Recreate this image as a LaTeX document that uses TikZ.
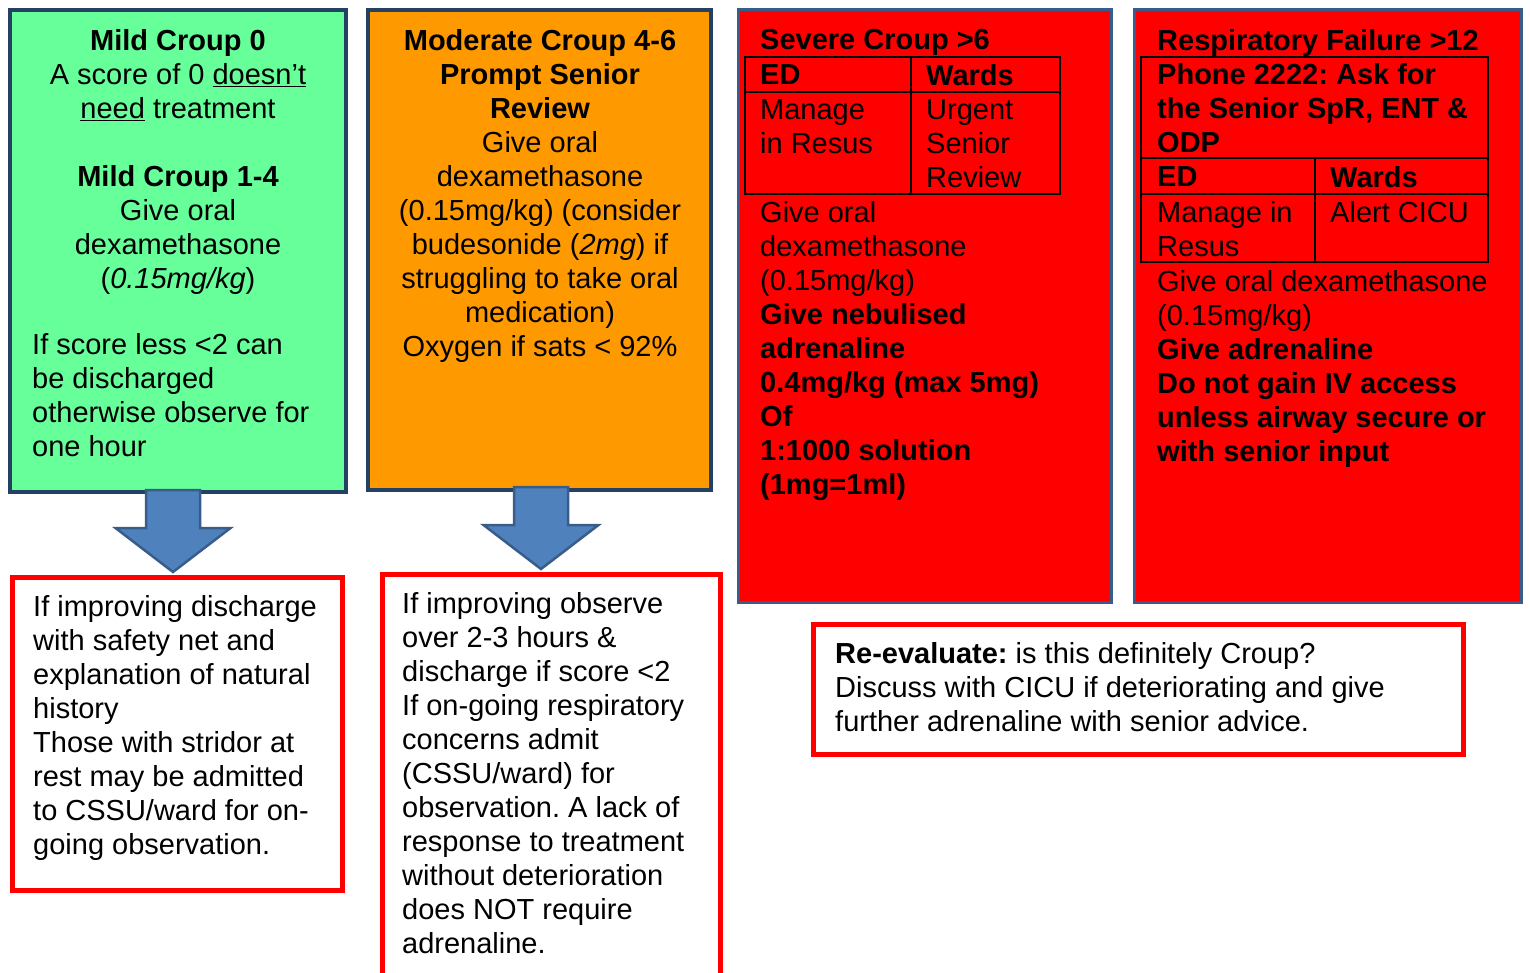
\documentclass[tikz,border=0pt]{standalone}
\usepackage{fontspec}
\setmainfont{Liberation Sans}
\usetikzlibrary{calc}
\definecolor{mildgreen}{RGB}{102,255,153}
\definecolor{modorange}{RGB}{255,153,0}
\definecolor{sevred}{RGB}{255,0,0}
\definecolor{navyline}{RGB}{36,64,98}
\definecolor{blueline}{RGB}{56,93,138}
\definecolor{arrowfill}{RGB}{79,129,189}
\tikzset{
  panel/.style={draw=navyline, line width=4pt, anchor=north west, inner sep=0pt, outer sep=0pt},
  redpanel/.style={draw=blueline, line width=3pt, fill=sevred, anchor=north west, inner sep=0pt, outer sep=0pt},
  outbox/.style={draw=sevred, line width=5pt, fill=white, anchor=north west, inner sep=0pt, outer sep=0pt},
  txt/.style={inner sep=0pt, font=\fontsize{29}{34}\selectfont\frenchspacing, text=black},
  tline/.style={draw=black, line width=2pt},
  blockarrow/.style={fill=arrowfill, draw=blueline, line width=2.5pt, line join=miter}
}
\begin{document}
\begin{tikzpicture}[x=1pt,y=-1pt]
\useasboundingbox (0,0) rectangle (1530,972);
\begin{scope}
\clip (0,0) rectangle (1530,972);
% main panels
\node[panel, fill=mildgreen, minimum width=336pt, minimum height=482pt] (b1) at (10,10) {};
\node[panel, fill=modorange, minimum width=343pt, minimum height=480pt] (b2) at (368,10) {};
\node[redpanel, minimum width=373pt, minimum height=593pt] (b3) at (738.5,9.5) {};
\node[redpanel, minimum width=387pt, minimum height=593pt] (b4) at (1134.5,9.5) {};
% outcome boxes
\node[outbox, minimum width=330pt, minimum height=313pt] (o1) at (12.5,577.5) {};
\node[outbox, minimum width=338pt, minimum height=420pt] (o2) at (382.5,574.5) {};
\node[outbox, minimum width=650pt, minimum height=130pt] (o3) at (813.5,624.5) {};

% box 1 text
\node[txt, align=center, anchor=north] (t1a) at (178,29) {\textbf{Mild Croup 0}\\
A score of 0 \underline{doesn’t}\\
\underline{need} treatment\\[34pt]
\textbf{Mild Croup 1-4}\\
Give oral\\
dexamethasone\\
(\textit{0.15mg/kg})};
\node[txt, align=left, anchor=north west] (t1b) at (32,333) {If score less <2 can\\
be discharged\\
otherwise observe for\\
one hour};

% box 2 text
\node[txt, align=center, anchor=north] (t2) at (540,29) {\textbf{Moderate Croup 4-6}\\
\textbf{Prompt Senior}\\
\textbf{Review}\\
Give oral\\
dexamethasone\\
(0.15mg/kg) (consider\\
budesonide (\textit{2mg}) if\\
struggling to take oral\\
medication)\\
Oxygen if sats < 92\%};

% box 3 text and table
\node[txt, anchor=north west] (t3h) at (760,29) {\textbf{Severe Croup >6}};
\coordinate (s1) at (745,57);
\coordinate (s2) at (1060,194);
\draw[tline] (s1) rectangle (s2);
\draw[tline] (745,92) -- (1060,92);
\draw[tline] (911,57) -- (911,194);
\node[txt, anchor=north west] (t3ed) at (760,64) {\textbf{ED}};
\node[txt, anchor=north west] (t3wd) at (926,64) {\textbf{Wards}};
\node[txt, align=left, anchor=north west] (t3m) at (760,99) {Manage\\in Resus};
\node[txt, align=left, anchor=north west] (t3u) at (926,99) {Urgent\\Senior\\Review};
\node[txt, align=left, anchor=north west] (t3b) at (760,201) {Give oral\\
dexamethasone\\
(0.15mg/kg)\\
\textbf{Give nebulised}\\
\textbf{adrenaline}\\
\textbf{0.4mg/kg (max 5mg)}\\
\textbf{Of}\\
\textbf{1:1000 solution}\\
\textbf{(1mg=1ml)}};

% box 4 text and table
\node[txt, anchor=north west] (t4h) at (1157,29) {\textbf{Respiratory Failure >12}};
\coordinate (r1) at (1141,57);
\coordinate (r2) at (1488,262);
\draw[tline] (r1) rectangle (r2);
\draw[tline] (1141,158) -- (1488,158);
\draw[tline] (1141,194) -- (1488,194);
\draw[tline] (1315,158) -- (1315,262);
\node[txt, align=left, anchor=north west] (t4p) at (1157,63) {\textbf{Phone 2222: Ask for}\\
\textbf{the Senior SpR, ENT \&}\\
\textbf{ODP}};
\node[txt, anchor=north west] (t4ed) at (1157,166) {\textbf{ED}};
\node[txt, anchor=north west] (t4wd) at (1330,166) {\textbf{Wards}};
\node[txt, align=left, anchor=north west] (t4m) at (1157,201) {Manage in\\Resus};
\node[txt, anchor=north west] (t4a) at (1330,201) {Alert CICU};
\node[txt, align=left, anchor=north west] (t4b) at (1157,270) {Give oral dexamethasone\\
(0.15mg/kg)\\
\textbf{Give adrenaline}\\
\textbf{Do not gain IV access}\\
\textbf{unless airway secure or}\\
\textbf{with senior input}};

% outcome texts
\node[txt, align=left, anchor=north west] (to1) at (33,595) {If improving discharge\\
with safety net and\\
explanation of natural\\
history\\
Those with stridor at\\
rest may be admitted\\
to CSSU/ward for on-\\
going observation.};
\node[txt, align=left, anchor=north west] (to2) at (402,592) {If improving observe\\
over 2-3 hours \&\\
discharge if score <2\\
If on-going respiratory\\
concerns admit\\
(CSSU/ward) for\\
observation. A lack of\\
response to treatment\\
without deterioration\\
does NOT require\\
adrenaline.};
\node[txt, align=left, anchor=north west] (to3) at (835,642) {\textbf{Re-evaluate:} is this definitely Croup?\\
Discuss with CICU if deteriorating and give\\
further adrenaline with senior advice.};

% block arrows
\coordinate (a1) at ($(o1.north)+(-4.5,-5.5)$);
\coordinate (a2) at ($(o2.north)+(-10.5,-5.5)$);
\foreach \tip in {a1,a2}{
  \draw[blockarrow] ($(\tip)$) -- ++(57.5,-44) -- ++(-30.5,0) -- ++(0,-38) -- ++(-54,0) -- ++(0,38) -- ++(-30.5,0) -- cycle;
}
\end{scope}
\end{tikzpicture}
\end{document}
